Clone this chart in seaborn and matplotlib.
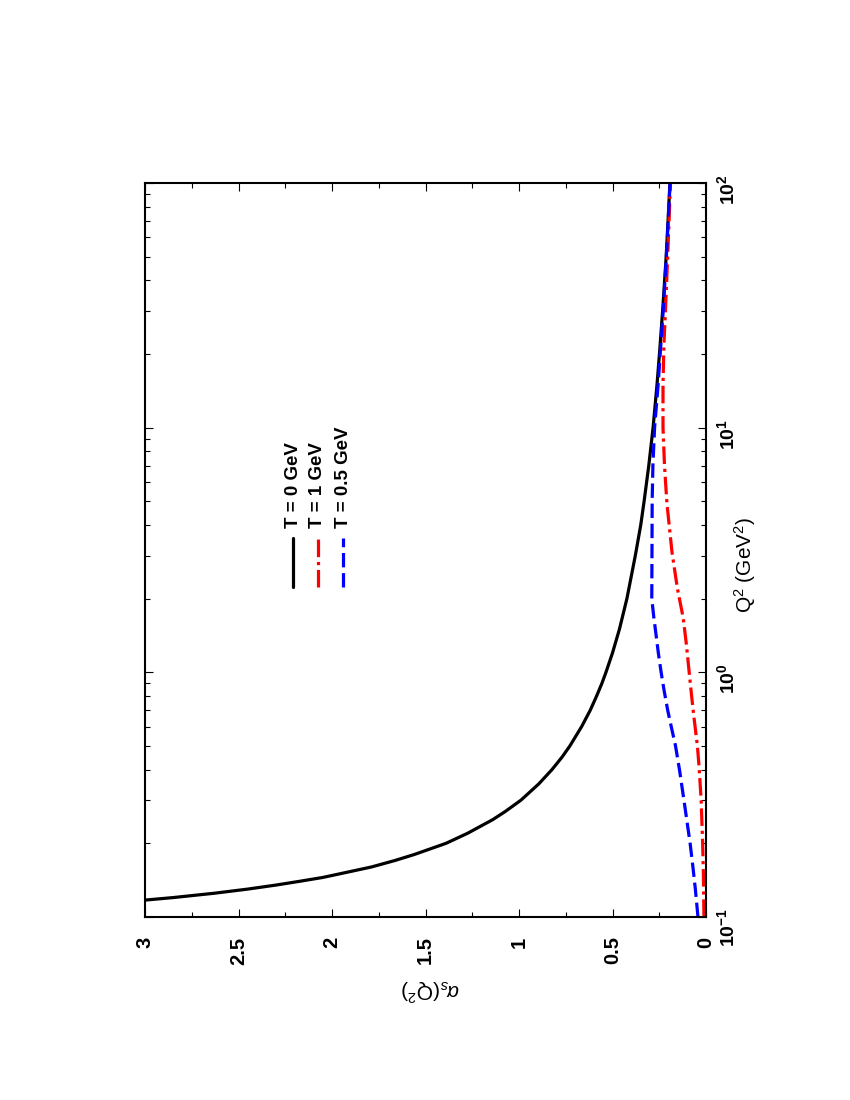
import numpy as np
import pandas as pd
import seaborn as sns
import matplotlib.pyplot as plt
from matplotlib.ticker import LogLocator, NullFormatter, MultipleLocator

# values (Q^2 in GeV^2, alpha_s)
q2_t0 = [0.115, 0.12, 0.125, 0.13, 0.135, 0.14, 0.145, 0.15, 0.16, 0.17, 0.18, 0.2,
         0.22, 0.25, 0.27, 0.3, 0.35, 0.4, 0.45, 0.5, 0.6, 0.7, 0.8, 0.9, 1.0, 1.2,
         1.5, 2.0, 3.0, 4.0, 5.0, 7.0, 10.0, 15.0, 20.0, 30.0, 50.0, 70.0, 100.0]
alpha_t0 = [3.12, 2.85, 2.63, 2.45, 2.30, 2.17, 2.05, 1.96, 1.79, 1.665, 1.56, 1.39,
            1.274, 1.14, 1.073, 0.99, 0.894, 0.824, 0.770, 0.728, 0.665, 0.619, 0.585,
            0.557, 0.535, 0.500, 0.463, 0.423, 0.378, 0.349, 0.331, 0.306, 0.283, 0.262,
            0.249, 0.232, 0.213, 0.203, 0.193]

q2_t1 = [0.1, 0.15, 0.2, 0.3, 0.41, 0.5, 0.65, 0.8, 1.0, 1.3, 1.67, 2.2, 3.1, 4.9,
         7.0, 10.0, 15.0, 22.0, 30.0, 50.0, 100.0]
alpha_t1 = [0.011, 0.014, 0.018, 0.026, 0.037, 0.046, 0.064, 0.077, 0.09, 0.105,
            0.122, 0.153, 0.182, 0.209, 0.222, 0.23, 0.23, 0.225, 0.217, 0.205, 0.19]

q2_t05 = [0.1, 0.13, 0.16, 0.2, 0.3, 0.4, 0.5, 0.6, 0.7, 0.85, 1.0, 1.2, 1.44, 1.7,
          2.0, 3.0, 5.0, 7.0, 10.0, 15.0, 20.0, 30.0, 50.0, 100.0]
alpha_t05 = [0.043, 0.057, 0.07, 0.085, 0.118, 0.142, 0.163, 0.186, 0.205, 0.225,
             0.24, 0.255, 0.268, 0.28, 0.29, 0.289, 0.288, 0.284, 0.275, 0.256, 0.245,
             0.229, 0.212, 0.192]

labels = ['T = 0 GeV', 'T = 1 GeV', 'T = 0.5 GeV']
colors = ['black', 'red', 'blue']
styles = ['-', (0, (5.5, 1.5, 1.0, 1.5)), (0, (4.5, 1.8))]

alpha_ticks = [0, 0.5, 1, 1.5, 2, 2.5, 3]
alpha_ticklabels = ['0', '0.5', '1', '1.5', '2', '2.5', '3']
q2_ticks = [0.1, 1, 10, 100]
q2_ticklabels = [r'$\mathbf{10^{-1}}$', r'$\mathbf{10^{0}}$', r'$\mathbf{10^{1}}$', r'$\mathbf{10^{2}}$']

sns.set_style('ticks')
plt.rcParams['font.family'] = ['Liberation Sans', 'DejaVu Sans']
plt.rcParams['mathtext.fontset'] = 'custom'
plt.rcParams['mathtext.rm'] = 'Liberation Sans'
plt.rcParams['mathtext.it'] = 'Liberation Sans:italic'
plt.rcParams['mathtext.bf'] = 'Liberation Sans:bold'
for k in ['text.color', 'axes.labelcolor', 'xtick.color', 'ytick.color', 'axes.edgecolor']:
    plt.rcParams[k] = 'black'

df = pd.concat([
    pd.DataFrame({'Q2': q2_t0, 'alpha': alpha_t0, 'T': labels[0]}),
    pd.DataFrame({'Q2': q2_t1, 'alpha': alpha_t1, 'T': labels[1]}),
    pd.DataFrame({'Q2': q2_t05, 'alpha': alpha_t05, 'T': labels[2]}),
])

fig = plt.figure(figsize=(8.5, 11), dpi=100)
ax = fig.add_axes([0.1706, 0.1664, 0.66, 0.6673])
ax.set_yscale('log')

# the page is rotated: alpha_s runs horizontally (right to left), Q^2 vertically
for lab, col, ls in zip(labels, colors, styles):
    sns.lineplot(ax=ax, data=df[df['T'] == lab], x='alpha', y='Q2', sort=False,
                 estimator=None, color=col, linestyle=ls, linewidth=2.3, legend=False)

ax.set_xlim(3, 0)
ax.set_ylim(0.1, 100)

ax.set_xticks(alpha_ticks)
ax.set_xticklabels(alpha_ticklabels, rotation=90, fontsize=14.5, fontweight='bold')
ax.xaxis.set_minor_locator(MultipleLocator(0.25))
ax.set_yticks(q2_ticks)
ax.set_yticklabels(q2_ticklabels, rotation=90, fontsize=14)
ax.yaxis.set_minor_locator(LogLocator(base=10, subs=np.arange(2, 10)))
ax.yaxis.set_minor_formatter(NullFormatter())

ax.tick_params(which='both', direction='in', top=True, bottom=True, left=True,
               right=True, labelleft=False, labelright=True, width=0.8, color='black')
ax.tick_params(which='major', length=6)
ax.tick_params(which='minor', length=3.5)
ax.tick_params(axis='x', pad=14)
ax.tick_params(axis='y', pad=7)
for s in ax.spines.values():
    s.set_linewidth(1.5)
    s.set_color('black')

ax.set_xlabel(r'$\alpha_s$(Q$^2$)', fontsize=15, rotation=180)
ax.xaxis.label.set_rotation_mode('default')
ax.xaxis.label.set_verticalalignment('center')
ax.xaxis.set_label_coords(0.508, -0.0995)

ax.yaxis.set_label_position('right')
ax.set_ylabel('Q$^2$ (GeV$^2$)', fontsize=15, rotation=90)
ax.yaxis.label.set_rotation_mode('default')
ax.yaxis.label.set_verticalalignment('center')
ax.yaxis.label.set_horizontalalignment('center')
ax.yaxis.set_label_coords(1.0695, 0.48)

# rotated legend drawn by hand
leg_x = [0.264, 0.308, 0.353]
for lx, lab, col, ls in zip(leg_x, labels, colors, styles):
    ax.plot([lx, lx], [0.4496, 0.516], transform=ax.transAxes, color=col,
            linestyle=ls, linewidth=2.3)
    ax.text(lx, 0.530, lab, transform=ax.transAxes, rotation=90, ha='center',
            va='bottom', fontsize=13.5, fontweight='bold')

fig.savefig('out.png', dpi=100)
